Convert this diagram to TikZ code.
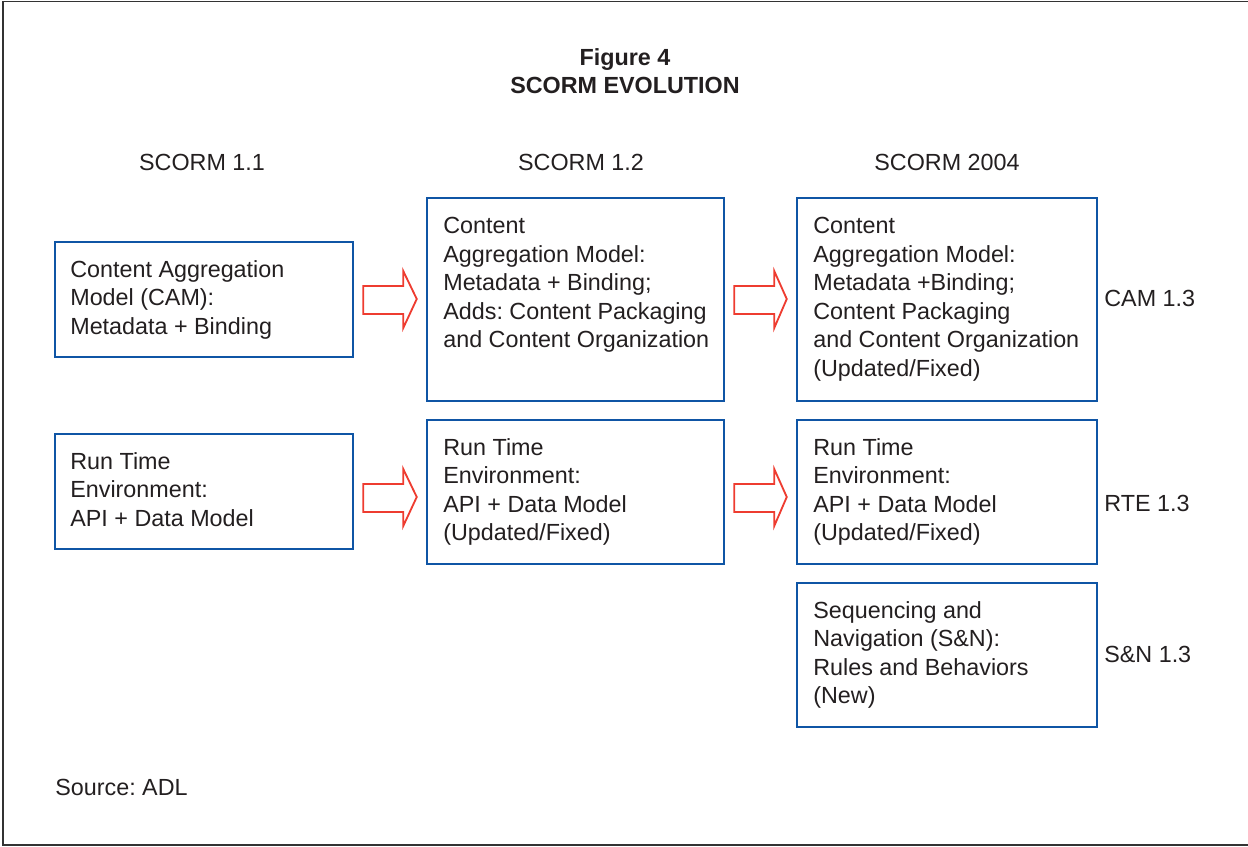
\documentclass[tikz,border=0pt]{standalone}
\usepackage{fontspec}
\setmainfont{Liberation Sans}
\usetikzlibrary{calc}
\definecolor{boxblue}{RGB}{15,85,165}
\definecolor{arrred}{RGB}{238,60,48}
\definecolor{txt}{RGB}{35,31,32}
\frenchspacing
\begin{document}
\begin{tikzpicture}[x=0.6pt,y=-0.6pt,
  every node/.style={text=txt,font=\fontsize{14}{17.1}\selectfont},
  box/.style={draw=boxblue,line width=1.5pt,fill=white,rectangle,inner sep=0pt},
  boxtext/.style={anchor=north west,inner sep=0pt,align=left},
  fat/.style={draw=arrred,line width=1.1pt,line join=miter,fill=white}]
\useasboundingbox (0,0) rectangle (1248,846);
\draw[line width=1.1pt,draw=black!80] (3,1.5) rectangle (1262,845);
% title
\node[font=\fontsize{14}{16.8}\selectfont\bfseries,align=center] (title) at (625,71) {Figure 4\\SCORM EVOLUTION};
% column headings
\node (h1) at (202,162) {SCORM 1.1};
\node (h2) at (581,162) {SCORM 1.2};
\node (h3) at (947,162) {SCORM 2004};
% boxes
\node[box,minimum width=298*0.6pt,minimum height=115*0.6pt] (a1) at (204,299.5) {};
\node[box,minimum width=297*0.6pt,minimum height=203*0.6pt] (a2) at (575.5,299.5) {};
\node[box,minimum width=300*0.6pt,minimum height=203*0.6pt] (a3) at (947,299.5) {};
\node[box,minimum width=298*0.6pt,minimum height=115*0.6pt] (b1) at (204,491.5) {};
\node[box,minimum width=297*0.6pt,minimum height=144*0.6pt] (b2) at (575.5,492) {};
\node[box,minimum width=300*0.6pt,minimum height=144*0.6pt] (b3) at (947,492) {};
\node[box,minimum width=300*0.6pt,minimum height=144*0.6pt] (c3) at (947,655) {};
% box texts
\node[boxtext] (ta1) at (70,260) {Content Aggregation\\Model (CAM):\\Metadata + Binding};
\node[boxtext] (ta2) at (443,217) {Content\\Aggregation Model:\\Metadata + Binding;\\Adds: Content Packaging\\and Content Organization};
\node[boxtext] (ta3) at (813,217) {Content\\Aggregation Model:\\Metadata +Binding;\\Content Packaging\\and Content Organization\\(Updated/Fixed)};
\node[boxtext] (tb1) at (70,452) {Run Time\\Environment:\\API + Data Model};
\node[boxtext] (tb2) at (443,438) {Run Time\\Environment:\\API + Data Model\\(Updated/Fixed)};
\node[boxtext] (tb3) at (813,438) {Run Time\\Environment:\\API + Data Model\\(Updated/Fixed)};
\node[boxtext] (tc3) at (813,601) {Sequencing and\\Navigation (S\&N):\\Rules and Behaviors\\(New)};
% right labels
\node[anchor=west,inner sep=0pt] (l1) at (1104,298) {CAM 1.3};
\node[anchor=west,inner sep=0pt] (l2) at (1104,503) {RTE 1.3};
\node[anchor=west,inner sep=0pt] (l3) at (1104,654) {S\&N 1.3};
\node[anchor=west,inner sep=0pt] (src) at (55,787) {Source: ADL};
% block arrows
\newcommand{\fatarrow}[2]{%
  \draw[fat] ($(#1)+(9,-13)$) -- ($(#1)+(49,-13)$) -- ($(#1)+(49,-28)$) --
    ($(#2)+(-9,0)$) -- ($(#1)+(49,29)$) -- ($(#1)+(49,15)$) -- ($(#1)+(9,15)$) -- cycle;}
\coordinate (p1) at (a1.east |- 0,299);
\coordinate (q1) at (a2.west |- 0,299);
\coordinate (p2) at (a2.east |- 0,299);
\coordinate (q2) at (a3.west |- 0,299);
\coordinate (p3) at (b1.east |- 0,497);
\coordinate (q3) at (b2.west |- 0,497);
\coordinate (p4) at (b2.east |- 0,497);
\coordinate (q4) at (b3.west |- 0,497);
\fatarrow{p1}{q1}
\fatarrow{p2}{q2}
\fatarrow{p3}{q3}
\fatarrow{p4}{q4}
\end{tikzpicture}
\end{document}
